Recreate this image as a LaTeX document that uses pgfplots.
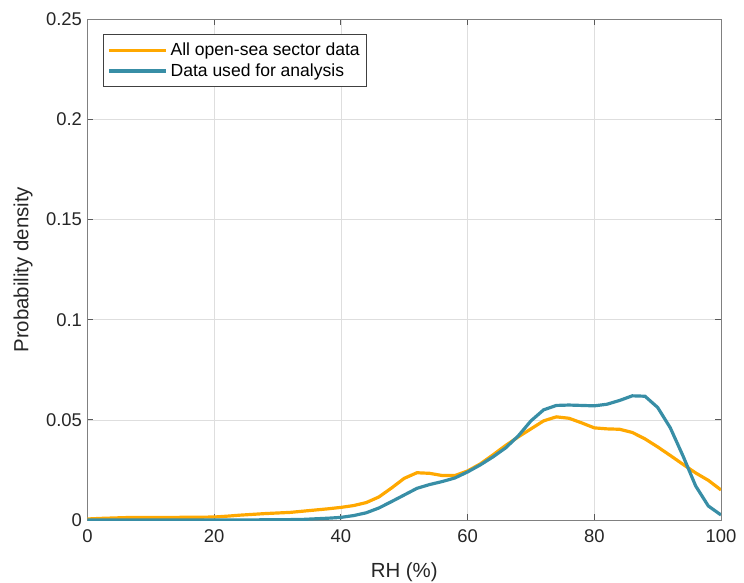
\documentclass[border=0pt]{standalone}
\usepackage{fontspec}
\setmainfont{Liberation Sans}
\usepackage{pgfplots}
\pgfplotsset{compat=1.18}
\definecolor{cOrange}{RGB}{255,168,0}
\definecolor{cTeal}{RGB}{56,142,166}
\begin{document}
\begin{tikzpicture}
\useasboundingbox (-87.5bp,-63bp) rectangle (656.5bp,520bp);
\begin{axis}[
 scale only axis, width=633.5bp, height=500.7bp,
 xmin=0,xmax=100,ymin=0,ymax=0.25,
 xtick={0,20,40,60,80,100},
 xticklabels={0,20,40,60,80,100},
 ytick={0,0.05,0.1,0.15,0.2,0.25},
 yticklabels={0,0.05,0.1,0.15,0.2,0.25},
 grid=major, major grid style={black!13, line width=0.6pt},
 axis line style={black!50, line width=0.9pt},
 tick style={black!65, line width=0.9pt},
 major tick length=6bp,
 tick align=inside,
 xtick pos=both, ytick pos=both,
 ticklabel style={font=\fontsize{18.5}{22}\selectfont, text=black!85},
 xticklabel style={yshift=-6.5bp},
 yticklabel style={xshift=-2bp},
 xlabel={RH (\%)}, ylabel={Probability density},
 every axis x label/.style={at={(axis description cs:0.5,0)}, anchor=center, yshift=-52bp, font=\fontsize{20.5}{24}\selectfont, text=black!85},
 every axis y label/.style={at={(axis description cs:0,0.5)}, anchor=center, rotate=90, yshift=64.5bp, font=\fontsize{20.5}{24}\selectfont, text=black!85},
 legend style={at={(rel axis cs:0.0245,0.970)}, anchor=north west, draw=black!75, line width=0.8pt, fill=white,
   font=\fontsize{17.6}{21}\selectfont, inner xsep=4bp, inner ysep=6.5bp, row sep=2.5bp,
   nodes={inner xsep=3bp, inner ysep=2bp},
   cells={anchor=west}},
 legend image code/.code={\draw[#1, line width=3.2pt] (0bp,0bp) -- (57bp,0bp);},
]
\addplot[cOrange, line width=3.2pt] coordinates {
(0,0.0005)(2,0.0008)(4,0.0010)(6,0.0012)(8,0.0013)(10,0.0013)(12,0.0013)(14,0.0013)(16,0.0014)(18,0.0014)
(20,0.0015)(22,0.0019)(24,0.0024)(26,0.0028)(28,0.0032)(30,0.0035)(32,0.0038)(34,0.0044)(36,0.0050)(38,0.0056)
(40,0.0063)(42,0.0072)(44,0.0087)(46,0.0115)(48,0.0160)(50,0.0208)(52,0.0236)(54,0.0233)(56,0.0222)(58,0.0222)
(60,0.0245)(62,0.0280)(64,0.0325)(66,0.0372)(68,0.0415)(70,0.0455)(72,0.0495)(74,0.0515)(76,0.0508)(78,0.0485)
(80,0.0460)(82,0.0455)(84,0.0453)(86,0.0437)(88,0.0405)(90,0.0365)(92,0.0322)(94,0.0278)(96,0.0235)(98,0.0198)(100,0.0150)
};
\addlegendentry{All open-sea sector data}
\addplot[cTeal, line width=3.2pt] coordinates {
(0,0)(4,0)(8,0)(12,0)(16,0)(20,0)(24,0)(28,0.0001)(30,0.0001)(32,0.0002)(34,0.0003)(36,0.0006)(38,0.0009)
(40,0.0013)(42,0.0022)(44,0.0036)(46,0.0060)(48,0.0092)(50,0.0125)(52,0.0158)(54,0.0177)(56,0.0192)(58,0.0210)
(60,0.0240)(62,0.0275)(64,0.0315)(66,0.0360)(68,0.0420)(70,0.0495)(72,0.0550)(74,0.0572)(76,0.0574)(78,0.0572)
(80,0.0570)(82,0.0578)(84,0.0597)(86,0.0620)(88,0.0618)(90,0.0562)(92,0.0460)(94,0.0320)(96,0.0170)(98,0.0070)(100,0.0025)
};
\addlegendentry{Data used for analysis}
\end{axis}
\end{tikzpicture}
\end{document}
